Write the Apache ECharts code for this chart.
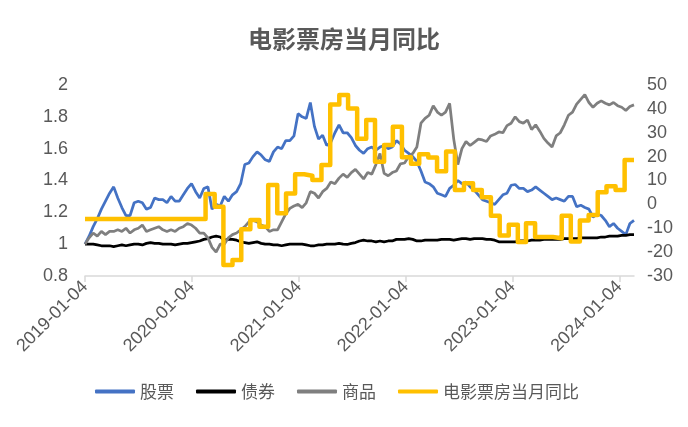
<!DOCTYPE html>
<html>
<head>
<meta charset="utf-8">
<script src="https://cdn.jsdelivr.net/npm/echarts@6/dist/echarts.min.js"></script>
<style>html,body{margin:0;padding:0;background:#fff;}#c{width:688px;height:427px;}</style>
</head>
<body>
<div id="c"></div>
<script>
// ---- data ----
const seriesNames = ['股票', '债券', '商品', '电影票房当月同比'];
const sampleStart = '2019-01-04';   // first sample date
const sampleStepDays = 14;          // samples every two weeks
const axisEnd = '2024-02-23';
const tickDates = ['2019-01-04', '2020-01-04', '2021-01-04', '2022-01-04', '2023-01-04', '2024-01-04'];

const stockValues = [
  1.00,1.05,1.11,1.16,1.22,1.27,1.32,1.36,1.29,1.23,
  1.18,1.18,1.26,1.27,1.26,1.22,1.23,1.29,1.28,1.28,
  1.26,1.30,1.27,1.27,1.31,1.35,1.38,1.33,1.29,1.35,
  1.36,1.22,1.25,1.24,1.30,1.27,1.31,1.33,1.38,1.50,
  1.51,1.55,1.58,1.56,1.53,1.52,1.58,1.61,1.60,1.65,
  1.65,1.68,1.82,1.80,1.79,1.89,1.74,1.66,1.685,1.62,
  1.64,1.70,1.75,1.70,1.70,1.67,1.62,1.59,1.57,1.60,
  1.61,1.59,1.61,1.62,1.60,1.61,1.65,1.63,1.59,1.57,
  1.55,1.52,1.46,1.39,1.38,1.36,1.32,1.31,1.30,1.35,
  1.37,1.40,1.38,1.39,1.36,1.34,1.31,1.28,1.27,1.26,
  1.25,1.28,1.31,1.32,1.37,1.375,1.35,1.35,1.33,1.34,
  1.36,1.34,1.32,1.30,1.28,1.29,1.28,1.27,1.30,1.30,
  1.235,1.245,1.23,1.22,1.17,1.19,1.18,1.15,1.11,1.13,
  1.10,1.08,1.06,1.13,1.15
];
const bondValues = [
  1.00,1.00,1.00,0.995,0.99,0.99,0.99,0.985,0.99,0.995,
  0.99,0.995,1.00,1.00,0.995,1.005,1.01,1.005,1.005,1.00,
  1.00,1.00,0.995,1.00,1.005,1.005,1.01,1.015,1.02,1.03,
  1.035,1.045,1.05,1.045,1.025,1.03,1.03,1.025,1.015,1.01,
  1.005,1.01,1.015,1.005,1.00,1.00,0.995,0.995,0.99,0.995,
  1.00,1.00,1.00,1.00,0.995,0.99,0.99,0.995,0.995,1.00,
  1.00,1.00,1.005,1.00,0.998,1.005,1.01,1.02,1.025,1.02,
  1.02,1.015,1.02,1.015,1.02,1.02,1.03,1.03,1.03,1.035,
  1.03,1.02,1.02,1.025,1.025,1.025,1.025,1.03,1.03,1.03,
  1.025,1.03,1.035,1.035,1.03,1.035,1.035,1.035,1.03,1.03,
  1.025,1.015,1.015,1.015,1.015,1.015,1.02,1.02,1.02,1.025,
  1.025,1.025,1.03,1.03,1.03,1.03,1.03,1.035,1.035,1.035,
  1.035,1.04,1.04,1.04,1.04,1.04,1.045,1.045,1.05,1.05,
  1.05,1.055,1.055,1.06,1.06
];
const commodityValues = [
  1.00,1.04,1.07,1.05,1.08,1.06,1.08,1.08,1.09,1.08,
  1.10,1.07,1.09,1.10,1.12,1.08,1.09,1.10,1.11,1.09,
  1.08,1.09,1.08,1.10,1.11,1.13,1.12,1.10,1.07,1.07,
  1.04,0.98,0.95,1.00,1.00,1.04,1.06,1.07,1.09,1.11,
  1.14,1.15,1.14,1.12,1.11,1.08,1.09,1.09,1.14,1.19,
  1.225,1.24,1.25,1.23,1.26,1.33,1.32,1.29,1.33,1.35,
  1.39,1.38,1.415,1.44,1.42,1.45,1.47,1.44,1.41,1.45,
  1.44,1.50,1.57,1.445,1.43,1.45,1.46,1.505,1.51,1.55,
  1.57,1.61,1.76,1.79,1.81,1.87,1.83,1.81,1.83,1.885,
  1.66,1.50,1.60,1.645,1.62,1.64,1.66,1.655,1.645,1.68,
  1.69,1.705,1.70,1.745,1.76,1.80,1.77,1.76,1.78,1.72,
  1.75,1.71,1.665,1.635,1.61,1.68,1.70,1.75,1.81,1.83,
  1.88,1.91,1.94,1.89,1.86,1.885,1.90,1.885,1.875,1.89,
  1.87,1.86,1.84,1.865,1.875
];
// monthly box office YoY, Jan 2019 .. Feb 2024 (one value per month)
const boxOfficeFirstMonth = [2019, 1];
const boxOfficeLeadDays = 10;   // weekly series switches to the new month's value slightly before the 1st
const boxOfficeValues = [
  -6.1,-6.1,-6.1,-6.1,-6.1,-6.1,-6.1,-6.1,-6.1,-6.1,-6.1,-6.1,
  -6.1,-6.1,4.3,-1.0,-25.4,-23.3,-10.4,-6.5,-9.4,8.1,-3.7,4.6,
  12.6,12.0,10.2,16.5,41.8,45.8,40.2,27.5,35.3,17.9,24.9,32.5,
  19.7,17.0,21.0,19.6,13.9,22.1,6.0,8.8,6.0,3.0,-4.8,-13.0,
  -8.5,-15.8,-7.9,-13.7,-13.7,-14.2,-4.8,-15.5,-6.8,-4.5,5.1,7.6,
  6.0,18.6
];

// ---- build ----
function ts(s) { const p = s.split('-').map(Number); return Date.UTC(p[0], p[1] - 1, p[2]); }
const DAY = 86400000;
const t0 = ts(sampleStart);
const tEnd = ts(axisEnd);
function sampled(vals) { return vals.map((v, i) => [t0 + i * sampleStepDays * DAY, v]); }
const boxData = boxOfficeValues.map((v, i) => {
  const m = boxOfficeFirstMonth[1] - 1 + i;
  let t = Date.UTC(boxOfficeFirstMonth[0], m, 1) - boxOfficeLeadDays * DAY;
  if (t < t0) t = t0;
  return [t, v];
});
boxData.push([tEnd, boxOfficeValues[boxOfficeValues.length - 1]]);
const tickTs = tickDates.map(ts);
function fmt(v) {
  const d = new Date(v);
  const p = n => (n < 10 ? '0' : '') + n;
  return d.getUTCFullYear() + '-' + p(d.getUTCMonth() + 1) + '-' + p(d.getUTCDate());
}

const txt = '#595959';
const font = '"Liberation Sans", "Noto Sans CJK SC", sans-serif';
const cjk = '"Noto Sans CJK SC", sans-serif';
const chart = echarts.init(document.getElementById('c'), null, { renderer: 'canvas' });
chart.setOption({
  animation: false,
  backgroundColor: '#ffffff',
  title: {
    text: '电影票房当月同比', left: 'center', top: 22,
    textStyle: { fontSize: 24, fontWeight: 'bold', color: txt, fontFamily: cjk }
  },
  legend: {
    bottom: 22, left: 90, itemWidth: 40, itemHeight: 4, itemGap: 22,
    textStyle: { fontSize: 17, color: txt, fontFamily: cjk },
    data: seriesNames.map(n => ({ name: n, icon: 'roundRect' }))
  },
  grid: { left: 85, right: 54, top: 85, bottom: 151, containLabel: false },
  xAxis: {
    type: 'value', min: t0, max: tEnd, scale: true,
    axisLine: { show: true, onZero: false, lineStyle: { color: '#D9D9D9', width: 1.5 } },
    axisTick: { show: true, customValues: tickTs, length: 6, lineStyle: { color: '#D9D9D9', width: 1.5 } },
    axisLabel: { customValues: tickTs, rotate: 45, margin: 8, formatter: fmt, fontSize: 18, color: txt, fontFamily: font,
      showMinLabel: true, showMaxLabel: true, hideOverlap: false },
    splitLine: { show: false }, minorTick: { show: false }
  },
  yAxis: [
    {
      type: 'value', min: 0.8, max: 2, interval: 0.2,
      axisLine: { show: false }, axisTick: { show: false }, splitLine: { show: false },
      axisLabel: { fontSize: 18, color: txt, margin: 17, fontFamily: font,
        formatter: v => String(Math.round(v * 10) / 10) }
    },
    {
      type: 'value', min: -30, max: 50, interval: 10,
      axisLine: { show: false }, axisTick: { show: false }, splitLine: { show: false },
      axisLabel: { fontSize: 18, color: txt, margin: 13, fontFamily: font }
    }
  ],
  series: [
    { name: seriesNames[0], type: 'line', data: sampled(stockValues), showSymbol: false, symbol: 'none',
      lineStyle: { color: '#4472C4', width: 2.75 }, itemStyle: { color: '#4472C4' }, z: 2 },
    { name: seriesNames[1], type: 'line', data: sampled(bondValues), showSymbol: false, symbol: 'none',
      lineStyle: { color: '#000000', width: 2.75 }, itemStyle: { color: '#000000' }, z: 2 },
    { name: seriesNames[2], type: 'line', data: sampled(commodityValues), showSymbol: false, symbol: 'none',
      lineStyle: { color: '#7F7F7F', width: 2.75 }, itemStyle: { color: '#7F7F7F' }, z: 2 },
    { name: seriesNames[3], type: 'line', yAxisIndex: 1, data: boxData, step: 'end', showSymbol: false, symbol: 'none',
      lineStyle: { color: '#FFC000', width: 4.5, join: 'round' }, itemStyle: { color: '#FFC000' }, z: 3 }
  ]
});
</script>
</body>
</html>
